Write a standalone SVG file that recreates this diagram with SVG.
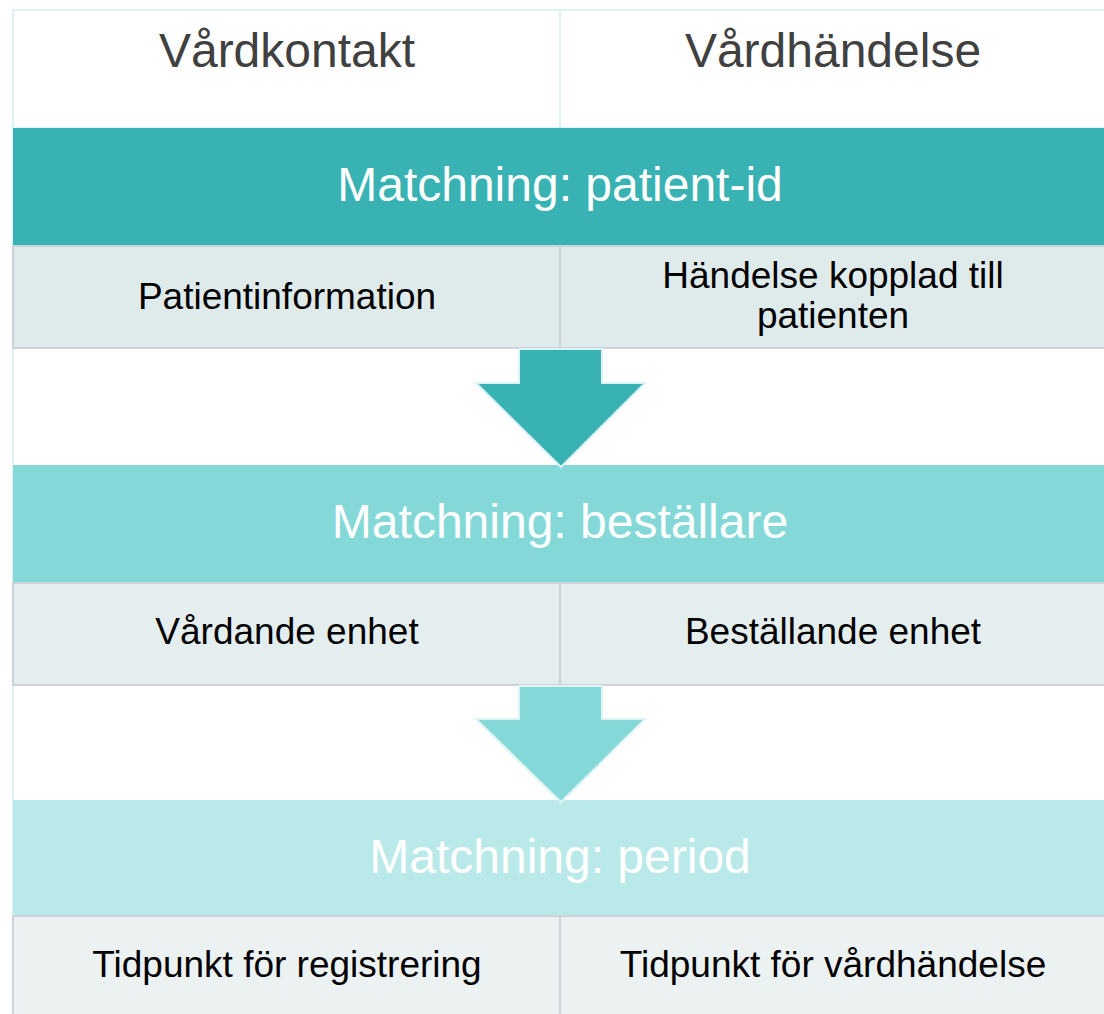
<svg xmlns="http://www.w3.org/2000/svg" width="1104" height="1014" viewBox="0 0 1104 1014">
<style>
.hdr{font-family:"Liberation Sans",Arial,sans-serif;font-size:48px;fill:#404040;text-anchor:middle}
.bar{font-family:"Liberation Sans",Arial,sans-serif;font-size:48px;fill:#ffffff;text-anchor:middle}
.cell{font-family:"Liberation Sans",Arial,sans-serif;font-size:37px;fill:#000000;text-anchor:middle}
.cellbox{stroke:#CDD2DA;stroke-width:2}
</style>
<rect x="0" y="0" width="1104" height="1014" fill="#ffffff"/>
<line x1="13" y1="10" x2="13" y2="1014" stroke="#DDF3F3" stroke-width="2"/>
<g id="header">
<rect x="13" y="10" width="547" height="118" fill="#ffffff" stroke="#DDF3F3" stroke-width="2"/>
<rect x="560" y="10" width="547" height="118" fill="#ffffff" stroke="#DDF3F3" stroke-width="2"/>
<text class="hdr" x="287" y="67">Vårdkontakt</text>
<text class="hdr" x="833" y="67">Vårdhändelse</text>
</g>
<g id="bar1">
<rect x="13" y="128" width="1094" height="117" fill="#38B2B3"/>
<text class="bar" x="560" y="201">Matchning: patient-id</text>
</g>
<g id="row1">
<rect class="cellbox" x="13" y="246" width="547" height="102" fill="#DFEAEA"/>
<rect class="cellbox" x="560" y="246" width="547" height="102" fill="#DFEAEA"/>
<text class="cell" x="287" y="309">Patientinformation</text>
<text class="cell" x="833" y="288">Händelse kopplad till</text>
<text class="cell" x="833" y="328">patienten</text>
</g>
<g id="bar2">
<rect x="13" y="465" width="1094" height="117" fill="#84D9D8"/>
<text class="bar" x="560" y="538">Matchning: beställare</text>
</g>
<g id="row2">
<rect class="cellbox" x="13" y="583" width="547" height="102" fill="#E5EEEE"/>
<rect class="cellbox" x="560" y="583" width="547" height="102" fill="#E5EEEE"/>
<text class="cell" x="287" y="644">Vårdande enhet</text>
<text class="cell" x="833" y="644">Beställande enhet</text>
</g>
<g id="bar3">
<rect x="13" y="800" width="1094" height="115" fill="#BAE9E9"/>
<text class="bar" x="560" y="873">Matchning: period</text>
</g>
<g id="row3">
<rect class="cellbox" x="13" y="916" width="547" height="100" fill="#ECF1F1"/>
<rect class="cellbox" x="560" y="916" width="547" height="100" fill="#ECF1F1"/>
<text class="cell" x="287" y="977">Tidpunkt för registrering</text>
<text class="cell" x="833" y="977">Tidpunkt för vårdhändelse</text>
</g>
<g id="connectors">
<polygon points="519,349 602,349 602,383 645,383 561,467 476,383 519,383" fill="#38B2B3" stroke="#DDF3F3" stroke-width="2" stroke-linejoin="miter"/>
<polygon points="519,686 602,686 602,719 645,719 561,802 476,719 519,719" fill="#84D9D8" stroke="#DDF3F3" stroke-width="2" stroke-linejoin="miter"/>
</g>
</svg>
